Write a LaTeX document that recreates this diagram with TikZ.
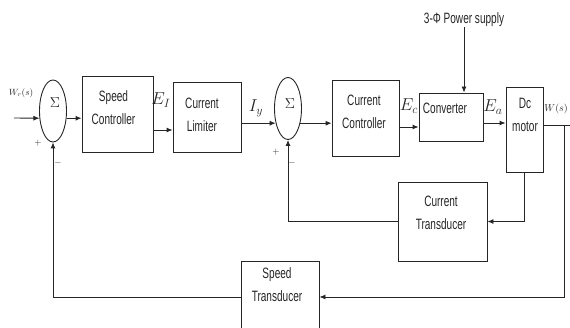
\documentclass[tikz,border=0pt]{standalone}
\usepackage{fontspec}
\setmainfont{Liberation Sans}
\newfontfamily\narrowsans[FakeStretch=0.67]{Liberation Sans}
\usetikzlibrary{arrows.meta,shapes.geometric,calc}
\begin{document}
\begin{tikzpicture}[x = 1pt,y = -1pt,color = black!85,line width = 0.9pt,
blk/.style = {draw,rectangle,inner sep = 0pt},
sumnode/.style = {draw,ellipse,minimum width = 27pt,minimum height = 62pt,inner sep = 0pt},
txt/.style = {align = center,inner sep = 0pt,font = \fontsize{15}{23}\narrowsans},
sym/.style = {inner sep = 0pt,font = \LARGE},
sgn/.style = {inner sep = 0pt,font = \small},
>={Latex[length = 6pt,width = 5pt]}]
\path[use as bounding box,fill = white] (0,0) rectangle (570,328);
%
\node[sumnode] (sum1) at (53,111) {};\node[sym,font = \Large] (sig1) at (55,103) {$\Sigma$};
\node[blk,minimum width = 71pt,minimum height = 76pt] (spdctrl) at (117.5,114) {};\node[txt] (spdctrltxt) at (113.5,108) {Speed\\Controller};
\node[blk,minimum width = 68pt,minimum height = 70pt] (limiter) at (207,117) {};\node[txt] (limitertxt) at (202,115) {Current\\Limiter};
\node[sumnode] (sum2) at (288,108.5) {};\node[sym,font = \Large] (sig2) at (290,104) {$\Sigma$};
\node[blk,minimum width = 67pt,minimum height = 76pt] (curctrl) at (365.5,118) {};\node[txt] (curctrltxt) at (364,112) {Current\\Controller};
\node[blk,minimum width = 64pt,minimum height = 48pt] (conv) at (451,117) {};\node[txt] (convtxt) at (445,108) {Converter};
\node[blk,minimum width = 37pt,minimum height = 85pt] (motor) at (524.5,129.5) {};\node[txt] (motortxt) at (525,115) {Dc\\motor};
\node[blk,minimum width = 89pt,minimum height = 79pt] (curtrans) at (442.5,221.5) {};\node[txt] (curtranstxt) at (441,213) {Current\\Transducer};
\node[blk,minimum width = 78pt,minimum height = 72pt] (spdtrans) at (280,297) {};\node[txt] (spdtranstxt) at (277,285) {Speed\\Transducer};
\node[txt] (ps) at (464,20) {3-Φ Power supply};
%
\coordinate (win) at (14,118);\coordinate (tap) at (564,125);\coordinate (wend) at (572,125);
\coordinate (ei) at ($(spdctrl.east)+(0,16)$);\coordinate (ec) at ($(curctrl.east)+(0,9)$);
\coordinate (ea) at ($(conv.east)+(0,6)$);\coordinate (wo) at ($(motor.east)+(0,-4.5)$);
\draw[->] (win) -- (sum1.208);\draw[->] (sum1.-28) -- (sum1.-28 -| spdctrl.west);
\draw[->] (ei) -- (ei -| limiter.west);\draw[->] (sum2.230 -| limiter.east) -- (sum2.230);
\draw[->] (sum2.-50) -- (sum2.-50 -| curctrl.west);\draw[->] (ec) -- (ec -| conv.west);
\draw[->] (ea) -- (ea -| motor.west);\draw[->] (ps.south) -- (ps.south |- conv.north);
\draw (wo) -- (wend);
%
\draw[->] (motor.south) |- (curtrans.east);\draw[->] (curtrans.west) -| (sum2.south);
\draw[->] (tap) |- (spdtrans.east);\draw[->] (spdtrans.west) -| (sum1.south);
%
\node[font = \small] (wr) at (21,93) {$W_r(s)$};
\node[sym] (eilbl) at (161,100) {$E_I$};\node[sym] (iylbl) at (256,108) {$I_y$};
\node[sym] (eclbl) at (409,106) {$E_c$};\node[sym] (ealbl) at (493,107) {$E_a$};
\node[anchor = west,inner sep = 0pt] (wlbl) at (544,109) {$W(s)$};
\node[sgn] (p1) at (38,143) {$+$};\node[sgn] (m1) at (58,163) {$-$};
\node[sgn] (p2) at (276,152) {$+$};\node[sgn] (m2) at (292,163) {$-$};
\end{tikzpicture}
\end{document}
